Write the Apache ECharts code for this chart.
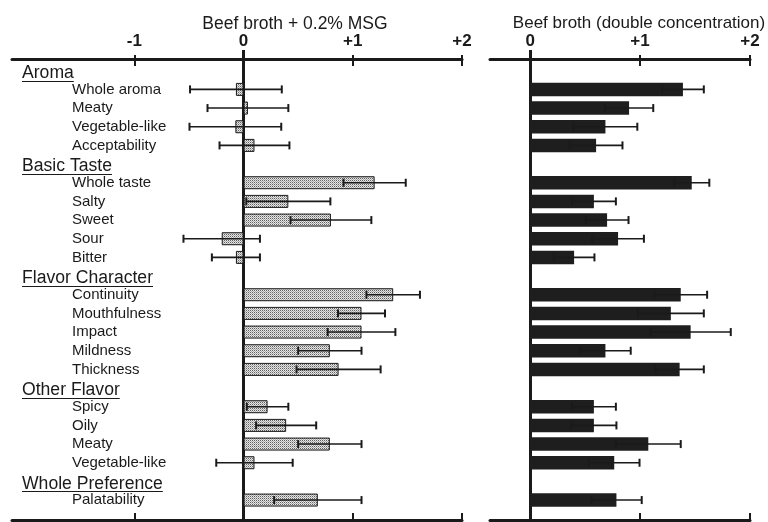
<!DOCTYPE html>
<html>
<head>
<meta charset="utf-8">
<script src="https://cdn.jsdelivr.net/npm/echarts@6/dist/echarts.min.js"></script>
<style>
html,body{margin:0;padding:0;background:#fff;}
#chart{width:768px;height:522px;}
</style>
</head>
<body>
<div id="chart"></div>
<script>
// ---------------- data ----------------
const groupNames = ['Aroma', 'Basic Taste', 'Flavor Character', 'Other Flavor', 'Whole Preference'];
const groupSizes = [4, 5, 5, 4, 1];
const attributes = ['Whole aroma', 'Meaty', 'Vegetable-like', 'Acceptability',
  'Whole taste', 'Salty', 'Sweet', 'Sour', 'Bitter',
  'Continuity', 'Mouthfulness', 'Impact', 'Mildness', 'Thickness',
  'Spicy', 'Oily', 'Meaty', 'Vegetable-like',
  'Palatability'];
const msgMean = [-0.07, 0.04, -0.075, 0.10, 1.20, 0.41, 0.80, -0.20, -0.07,
  1.37, 1.08, 1.08, 0.79, 0.87, 0.22, 0.39, 0.79, 0.10, 0.68];
const msgErr = [0.42, 0.37, 0.42, 0.32, 0.285, 0.385, 0.37, 0.35, 0.22,
  0.245, 0.215, 0.31, 0.29, 0.385, 0.19, 0.275, 0.29, 0.35, 0.40];
const doubleMean = [1.39, 0.90, 0.685, 0.60, 1.47, 0.58, 0.70, 0.80, 0.40,
  1.37, 1.28, 1.46, 0.685, 1.36, 0.58, 0.58, 1.075, 0.765, 0.785];
const doubleErr = [0.19, 0.22, 0.29, 0.24, 0.16, 0.20, 0.195, 0.235, 0.185,
  0.24, 0.30, 0.365, 0.23, 0.22, 0.20, 0.205, 0.295, 0.23, 0.23];
const leftTicks = [-1, 0, 1, 2];
const rightTicks = [0, 1, 2];
const leftTitle = 'Beef broth + 0.2% MSG';
const rightTitle = 'Beef broth (double concentration)';

// ---------------- build rows ----------------
const rows = [];
let k = 0;
groupNames.forEach((g, gi) => {
  rows.push({ label: g, header: true });
  for (let j = 0; j < groupSizes[gi]; j++) { rows.push({ label: attributes[k], idx: k }); k++; }
});
const categories = rows.map(r => r.label);
const barData = (means) => rows.map(r => r.header ? '-' : means[r.idx]);
const errData = (means, errs) => {
  const out = [];
  rows.forEach((r, i) => { if (!r.header) out.push([means[r.idx] - errs[r.idx], means[r.idx] + errs[r.idx], i]); });
  return out;
};

const FONT = '"Liberation Sans", Arial, Helvetica, sans-serif';
const INK = '#1a1a1a';
const HEAD_SIZE = 17.6;

// dotted pattern fill
const pc = document.createElement('canvas');
pc.width = 2; pc.height = 2;
const pg = pc.getContext('2d');
pg.fillStyle = '#e6e6e6'; pg.fillRect(0, 0, 2, 2);
pg.fillStyle = '#606060'; pg.fillRect(0, 0, 1, 1);
pg.fillStyle = '#a8a8a8'; pg.fillRect(1, 1, 1, 1);

function errRender(params, api) {
  const lo = api.coord([api.value(0), api.value(2)]);
  const hi = api.coord([api.value(1), api.value(2)]);
  const h = 4;
  const st = { stroke: INK, lineWidth: 1.6 };
  return {
    type: 'group', children: [
      { type: 'line', shape: { x1: lo[0], y1: lo[1], x2: hi[0], y2: hi[1] }, style: st },
      { type: 'line', shape: { x1: lo[0], y1: lo[1] - h, x2: lo[0], y2: lo[1] + h }, style: { stroke: INK, lineWidth: 2 } },
      { type: 'line', shape: { x1: hi[0], y1: hi[1] - h, x2: hi[0], y2: hi[1] + h }, style: { stroke: INK, lineWidth: 2 } }
    ]
  };
}

const fmt = v => (v > 0 ? '+' + v : String(v));

function frameAxes(grid, min, max, tickVals, labelVals) {
  const nonZero = tickVals.filter(v => v !== 0);
  const base = { gridIndex: grid, type: 'value', min: min, max: max, splitLine: { show: false } };
  return [
    Object.assign({}, base, {
      position: 'top',
      axisLine: { show: true, onZero: false, lineStyle: { color: INK, width: 3 } },
      axisTick: { show: true, inside: true, length: 7, customValues: nonZero, lineStyle: { color: INK, width: 2 } },
      axisLabel: { show: true, customValues: labelVals, formatter: fmt, margin: 9,
        fontFamily: FONT, fontSize: 17, fontWeight: 'bold', color: INK }
    }),
    Object.assign({}, base, {
      position: 'top',
      axisLine: { show: false, onZero: false },
      axisTick: { show: true, inside: false, length: 4, customValues: nonZero, lineStyle: { color: INK, width: 2 } },
      axisLabel: { show: false }
    }),
    Object.assign({}, base, {
      position: 'top',
      axisLine: { show: false, onZero: false },
      axisTick: { show: true, inside: false, length: 9, customValues: [0], lineStyle: { color: INK, width: 3 } },
      axisLabel: { show: false }
    }),
    Object.assign({}, base, {
      position: 'bottom',
      axisLine: { show: true, onZero: false, lineStyle: { color: INK, width: 3 } },
      axisTick: { show: true, inside: true, length: 7, customValues: nonZero, lineStyle: { color: INK, width: 2 } },
      axisLabel: { show: false }
    })
  ];
}

const LMIN = -2.12, LMAX = 2, RMIN = -0.365, RMAX = 2;
const BAR_TOP = 61.4, BAR_H = 448;

const xAxis = [].concat(
  frameAxes(0, LMIN, LMAX, leftTicks, leftTicks),                         // 0..3
  [{ gridIndex: 1, type: 'value', min: LMIN, max: LMAX, show: false }],   // 4
  frameAxes(2, RMIN, RMAX, rightTicks, rightTicks),                       // 5..8
  [{ gridIndex: 3, type: 'value', min: RMIN, max: RMAX, show: false }]    // 9
);

const zeroAxis = (grid) => ({
  gridIndex: grid, type: 'value', min: 0, max: 1,
  axisLine: { show: true, onZero: true, lineStyle: { color: INK, width: 3 } },
  axisTick: { show: false }, axisLabel: { show: false }, splitLine: { show: false }
});

const yAxis = [
  zeroAxis(0),
  {
    gridIndex: 1, type: 'category', inverse: true, data: categories,
    axisLine: { show: false, onZero: false }, axisTick: { show: false }, splitLine: { show: false },
    axisLabel: {
      show: true, inside: true, interval: 0, margin: 10,
      formatter: (v, i) => rows[i].header ? '{h|' + v + '}' : '{i|' + v + '}',
      rich: {
        h: { fontFamily: FONT, fontSize: HEAD_SIZE, color: INK, padding: [5, 0, 0, 0] },
        i: { fontFamily: FONT, fontSize: 15, color: INK, padding: [0, 0, 0, 50] }
      }
    }
  },
  zeroAxis(2),
  {
    gridIndex: 3, type: 'category', inverse: true, data: categories,
    axisLine: { show: false }, axisTick: { show: false }, axisLabel: { show: false }, splitLine: { show: false }
  }
];

const chart = echarts.init(document.getElementById('chart'), null, { renderer: 'canvas' });
chart.setOption({
  animation: false,
  backgroundColor: '#fff',
  title: [
    { text: leftTitle, left: 290, top: 10, textAlign: 'center',
      textStyle: { fontFamily: FONT, fontSize: 17.5, fontWeight: 'normal', color: INK } },
    { text: rightTitle, left: 634, top: 10, textAlign: 'center',
      textStyle: { fontFamily: FONT, fontSize: 17, fontWeight: 'normal', color: INK } }
  ],
  grid: [
    { left: 12, top: 59, width: 450, height: 461 },
    { left: 12, top: BAR_TOP, width: 450, height: BAR_H },
    { left: 490, top: 59, width: 260, height: 461 },
    { left: 490, top: BAR_TOP, width: 260, height: BAR_H }
  ],
  xAxis: xAxis,
  yAxis: yAxis,
  series: [
    { type: 'bar', xAxisIndex: 4, yAxisIndex: 1, data: barData(msgMean), barWidth: 13,
      itemStyle: { color: { image: pc, repeat: 'repeat' }, borderColor: INK, borderWidth: 1 } },
    { type: 'custom', xAxisIndex: 4, yAxisIndex: 1, renderItem: errRender,
      encode: { x: [0, 1], y: 2 }, data: errData(msgMean, msgErr), z: 3 },
    { type: 'bar', xAxisIndex: 9, yAxisIndex: 3, data: barData(doubleMean), barWidth: 13.5,
      itemStyle: { color: '#1e1e1e' } },
    { type: 'custom', xAxisIndex: 9, yAxisIndex: 3, renderItem: errRender,
      encode: { x: [0, 1], y: 2 }, data: errData(doubleMean, doubleErr), z: 3 }
  ]
});

// underline the group headers (decoration placed from the axis layout)
const mc = document.createElement('canvas').getContext('2d');
mc.font = HEAD_SIZE + 'px ' + FONT;
const lines = [];
rows.forEach((r, i) => {
  if (!r.header) return;
  const y = chart.convertToPixel({ yAxisIndex: 1 }, i);
  const w = mc.measureText(r.label).width;
  lines.push({ type: 'line', shape: { x1: 22, y1: Math.round(y + 10) + 0.5, x2: 22 + w, y2: Math.round(y + 10) + 0.5 },
    style: { stroke: INK, lineWidth: 1 }, silent: true });
});
chart.setOption({ graphic: lines });
</script>
</body>
</html>
